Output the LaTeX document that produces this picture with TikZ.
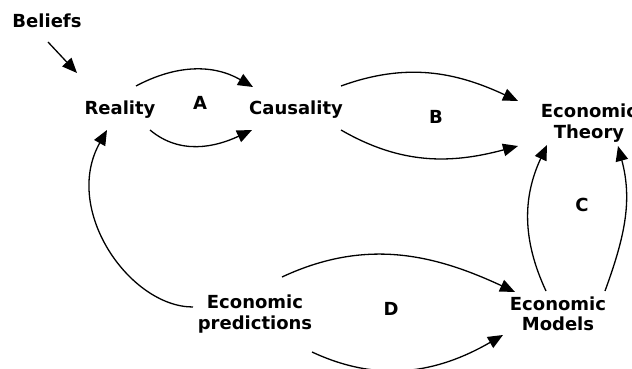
\documentclass[tikz,border=0pt]{standalone}
\usepackage{fontspec}
\setmainfont{DejaVu Sans}
\usetikzlibrary{arrows.meta,calc}
\begin{document}
\begin{tikzpicture}[x=1pt,y=-1pt,
  lbl/.style={font=\bfseries\fontsize{18}{20.5}\selectfont, align=center, inner sep=0pt},
  conn/.style={line width=1.3pt, -{Triangle[length=15pt,width=12.5pt]}}]
\useasboundingbox (0,0) rectangle (632,369);
\node[lbl] (beliefs) at (47,21) {Beliefs};
\node[lbl] (reality) at (120,110) {Reality};
\node[lbl] (causality) at (296,110) {Causality};
\node[lbl] (theory) at (589,123) {Economic\\Theory};
\node[lbl] (models) at (558,314) {Economic\\Models};
\node[lbl] (pred) at (255,314) {Economic\\predictions};
\node[lbl] (la) at (200,103) {A};
\node[lbl] (lb) at (436,117) {B};
\node[lbl] (lc) at (582,205) {C};
\node[lbl] (ld) at (391,309) {D};
\coordinate (bt) at (77,73);
% Beliefs
\draw[conn] ($(beliefs)+(1,21)$) -- (bt);
% A
\draw[conn] ($(reality)+(16,-24)$) to[out=28,in=150] ($(causality)+(-43,-23)$);
\draw[conn] ($(reality)+(30,20)$) to[out=-40,in=-155] ($(causality)+(-44,20)$);
% B
\draw[conn] ($(causality)+(45,-24)$) to[out=20,in=155] ($(theory)+(-71,-22)$);
\draw[conn] ($(causality)+(45,20)$) to[out=-30,in=-165] ($(theory)+(-71,23)$);
% C
\draw[conn] ($(models)+(-12,-23)$) to[out=115,in=-115] ($(theory)+(-42,22)$);
\draw[conn] ($(models)+(47,-23)$) to[out=70,in=-75] ($(theory)+(29,23)$);
% D
\draw[conn] ($(pred)+(27,-37)$) to[out=25,in=155] ($(models)+(-43,-22)$);
\draw[conn] ($(pred)+(57,38)$) to[out=-25,in=-150] ($(models)+(-55,21)$);
% loop back to Reality
\draw[conn] ($(pred)+(-62,-7)$) .. controls (130,307) and (62,210) .. ($(reality)+(-13,20)$);
\end{tikzpicture}
\end{document}
